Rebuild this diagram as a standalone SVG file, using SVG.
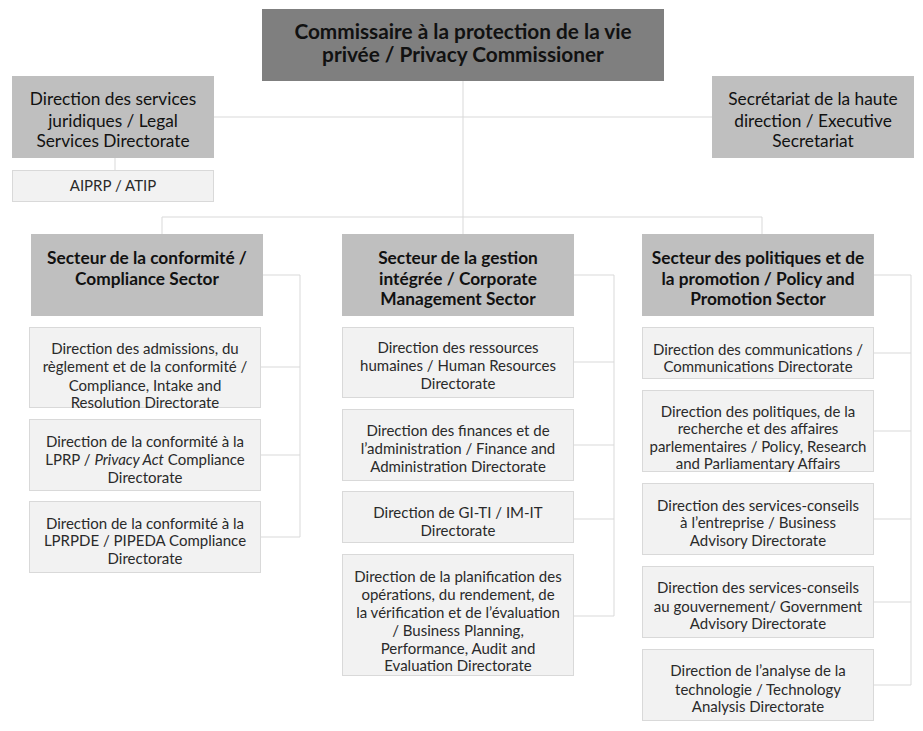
<svg xmlns="http://www.w3.org/2000/svg" width="923" height="731" viewBox="0 0 923 731">
<style>
.top{fill:#7f7f7f}
.sec{fill:#bfbfbf}
.leaf{fill:#f2f2f2;stroke:#d9d9d9;stroke-width:1}
.t{font-family:Lato,"Open Sans","Liberation Sans",sans-serif;text-anchor:middle;fill:#111}
.tb{font-size:20.8px;font-weight:bold}
.ts{font-size:17.3px;font-weight:bold}
.tl{font-size:17.3px}
.tc{font-size:15px;font-weight:normal;fill:#2a2a2a}
.conn{fill:none;stroke:#d9d9d9;stroke-width:1}
</style>
<rect width="923" height="731" fill="#ffffff"/>
<g id="connectors" class="conn">
<path d="M463,81 V217 M214,117 H712 M162,217 H762 M162,217 V234 M463,217 V234 M762,217 V234 M115,158 V170"/>
<path d="M263,275 H300 V537 M261,367 H300 M261,455 H300 M261,537 H300"/>
<path d="M574,275 H614 V616 M574,362 H614 M574,445 H614 M574,519 H614 M574,616 H614"/>
<path d="M874,275 H911 V685 M874,353 H911 M874,431 H911 M874,519 H911 M874,602 H911 M874,685 H911"/>
</g>
<g id="commissioner">
<rect class="top" x="262" y="9" width="402" height="72"/>
<text class="t tb" x="463"><tspan x="463" y="39">Commissaire à la protection de la vie</tspan><tspan x="463" y="62">privée / Privacy Commissioner</tspan></text>
</g>
<g id="legal">
<rect class="sec" x="12" y="76" width="202" height="82"/>
<text class="t tl" x="113"><tspan x="113" y="105">Direction des services</tspan><tspan x="113" y="126.5">juridiques / Legal</tspan><tspan x="113" y="147">Services Directorate</tspan></text>
</g>
<g id="atip">
<rect class="leaf" x="12.5" y="170.5" width="201" height="31"/>
<text class="t tc" x="113" y="190.5">AIPRP / ATIP</text>
</g>
<g id="exec">
<rect class="sec" x="712" y="76" width="202" height="82"/>
<text class="t tl" x="813"><tspan x="813" y="105">Secrétariat de la haute</tspan><tspan x="813" y="126.5">direction / Executive</tspan><tspan x="813" y="147">Secretariat</tspan></text>
</g>
<g id="compliance">
<rect class="sec" x="31" y="234" width="232" height="82"/>
<text class="t ts" x="147"><tspan x="147" y="264">Secteur de la conformité /</tspan><tspan x="147" y="284.5">Compliance Sector</tspan></text>
</g>
<g id="comp1">
<rect class="leaf" x="29.5" y="327.5" width="231" height="80"/>
<text class="t tc" x="145"><tspan x="145" y="353.5">Direction des admissions, du</tspan><tspan x="145" y="372">règlement et de la conformité /</tspan><tspan x="145" y="390.5">Compliance, Intake and</tspan><tspan x="145" y="408">Resolution Directorate</tspan></text>
</g>
<g id="comp2">
<rect class="leaf" x="29.5" y="419.5" width="231" height="71"/>
<text class="t tc" x="145"><tspan x="145" y="447">Direction de la conformité à la</tspan><tspan x="145" y="464.5">LPRP / <tspan font-style="italic">Privacy Act</tspan> Compliance</tspan><tspan x="145" y="482.5">Directorate</tspan></text>
</g>
<g id="comp3">
<rect class="leaf" x="29.5" y="501.5" width="231" height="71"/>
<text class="t tc" x="145"><tspan x="145" y="528.5">Direction de la conformité à la</tspan><tspan x="145" y="546">LPRPDE / PIPEDA Compliance</tspan><tspan x="145" y="563.5">Directorate</tspan></text>
</g>
<g id="corporate">
<rect class="sec" x="342" y="234" width="232" height="82"/>
<text class="t ts" x="458"><tspan x="458" y="264">Secteur de la gestion</tspan><tspan x="458" y="284.5">intégrée / Corporate</tspan><tspan x="458" y="305">Management Sector</tspan></text>
</g>
<g id="corp1">
<rect class="leaf" x="342.5" y="327.5" width="231" height="70"/>
<text class="t tc" x="458"><tspan x="458" y="353">Direction des ressources</tspan><tspan x="458" y="371">humaines / Human Resources</tspan><tspan x="458" y="389">Directorate</tspan></text>
</g>
<g id="corp2">
<rect class="leaf" x="342.5" y="409.5" width="231" height="71"/>
<text class="t tc" x="458"><tspan x="458" y="436">Direction des finances et de</tspan><tspan x="458" y="454">l’administration / Finance and</tspan><tspan x="458" y="472">Administration Directorate</tspan></text>
</g>
<g id="corp3">
<rect class="leaf" x="342.5" y="491.5" width="231" height="51"/>
<text class="t tc" x="458"><tspan x="458" y="518">Direction de GI-TI / IM-IT</tspan><tspan x="458" y="536">Directorate</tspan></text>
</g>
<g id="corp4">
<rect class="leaf" x="342.5" y="554.5" width="231" height="121"/>
<text class="t tc" x="458"><tspan x="458" y="581.5">Direction de la planification des</tspan><tspan x="458" y="599.5">opérations, du rendement, de</tspan><tspan x="458" y="617.5">la vérification et de l’évaluation</tspan><tspan x="458" y="635.5">/ Business Planning,</tspan><tspan x="458" y="653.5">Performance, Audit and</tspan><tspan x="458" y="671">Evaluation Directorate</tspan></text>
</g>
<g id="policy">
<rect class="sec" x="642" y="234" width="232" height="82"/>
<text class="t ts" x="758"><tspan x="758" y="264">Secteur des politiques et de</tspan><tspan x="758" y="284.5">la promotion / Policy and</tspan><tspan x="758" y="305">Promotion Sector</tspan></text>
</g>
<g id="pol1">
<rect class="leaf" x="642.5" y="327.5" width="231" height="51"/>
<text class="t tc" x="758"><tspan x="758" y="354.5">Direction des communications /</tspan><tspan x="758" y="372">Communications Directorate</tspan></text>
</g>
<g id="pol2">
<rect class="leaf" x="642.5" y="390.5" width="231" height="81"/>
<text class="t tc" x="758"><tspan x="758" y="416.5">Direction des politiques, de la</tspan><tspan x="758" y="434">recherche et des affaires</tspan><tspan x="758" y="451.5">parlementaires / Policy, Research</tspan><tspan x="758" y="468.5">and Parliamentary Affairs</tspan></text>
</g>
<g id="pol3">
<rect class="leaf" x="642.5" y="483.5" width="231" height="71"/>
<text class="t tc" x="758"><tspan x="758" y="510.5">Direction des services-conseils</tspan><tspan x="758" y="528">à l’entreprise / Business</tspan><tspan x="758" y="546">Advisory Directorate</tspan></text>
</g>
<g id="pol4">
<rect class="leaf" x="642.5" y="566.5" width="231" height="71"/>
<text class="t tc" x="758"><tspan x="758" y="593">Direction des services-conseils</tspan><tspan x="758" y="611.5">au gouvernement/ Government</tspan><tspan x="758" y="629">Advisory Directorate</tspan></text>
</g>
<g id="pol5">
<rect class="leaf" x="642.5" y="649.5" width="231" height="71"/>
<text class="t tc" x="758"><tspan x="758" y="676">Direction de l’analyse de la</tspan><tspan x="758" y="694.5">technologie / Technology</tspan><tspan x="758" y="711.5">Analysis Directorate</tspan></text>
</g>
</svg>
